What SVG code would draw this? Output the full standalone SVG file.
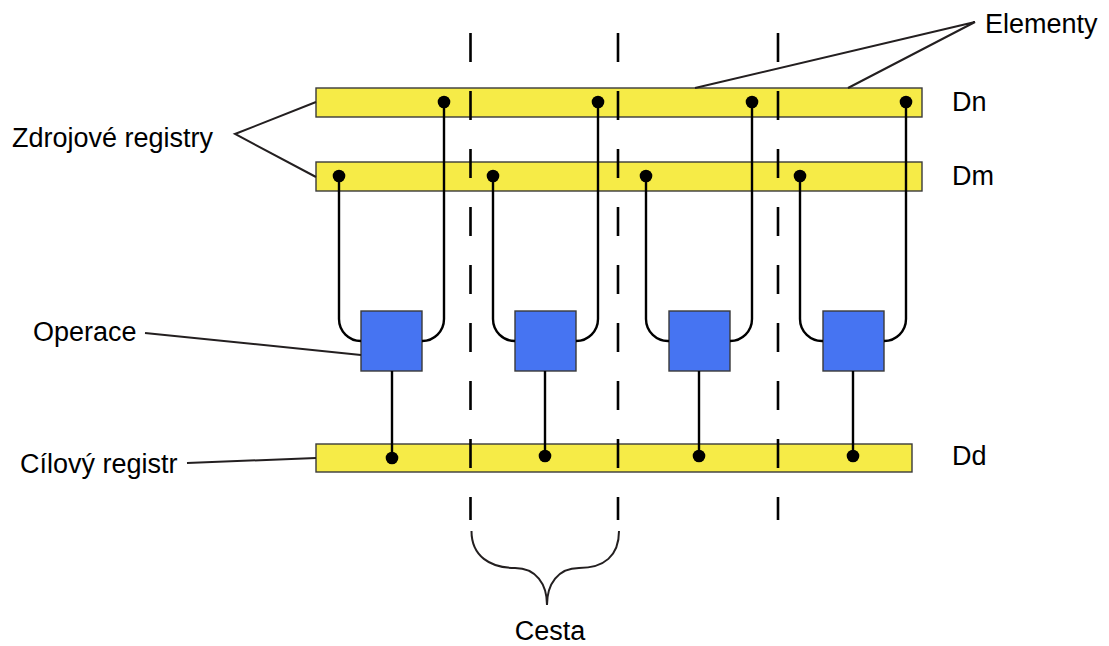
<svg xmlns="http://www.w3.org/2000/svg" width="1109" height="646" viewBox="0 0 1109 646">
<style>
.bar{fill:#F6EB47;stroke:#3a3a3a;stroke-width:1.4}
.op{fill:#4674F2;stroke:#3a3a3a;stroke-width:1.4}
.wire{fill:none;stroke:#000;stroke-width:2.4}
.lead{fill:none;stroke:#231f20;stroke-width:2}
.dash{fill:none;stroke:#000;stroke-width:2.6;stroke-dasharray:29 29}
.dot{fill:#000}
.t{font-family:"Liberation Sans",Arial,sans-serif;font-size:27px;fill:#000}
</style>
<rect width="1109" height="646" fill="#fff"/>
<g id="reg-dn"><rect class="bar" x="316" y="88" width="606" height="29"/><text class="t" x="952" y="111">Dn</text></g>
<g id="reg-dm"><rect class="bar" x="316" y="162" width="606" height="29"/><text class="t" x="952" y="185">Dm</text></g>
<g id="reg-dd"><rect class="bar" x="316" y="444" width="596" height="28"/><text class="t" x="952" y="465">Dd</text></g>
<g id="op1"><rect class="op" x="361" y="311" width="61" height="60"/></g>
<g id="op2"><rect class="op" x="515" y="311" width="61" height="60"/></g>
<g id="op3"><rect class="op" x="669" y="311" width="61" height="60"/></g>
<g id="op4"><rect class="op" x="823" y="311" width="61" height="60"/></g>
<g id="connectors">
<path class="wire" d="M339,176 V319 A22,22 0 0 0 361,341"/>
<path class="wire" d="M444,102 V319 A22,22 0 0 1 422,341"/>
<path class="wire" d="M392,371 V458"/>
<path class="wire" d="M493,176 V319 A22,22 0 0 0 515,341"/>
<path class="wire" d="M598,102 V319 A22,22 0 0 1 576,341"/>
<path class="wire" d="M545,371 V457"/>
<path class="wire" d="M646,176 V319 A22,22 0 0 0 669,341"/>
<path class="wire" d="M752,102 V319 A22,22 0 0 1 730,341"/>
<path class="wire" d="M699,371 V457"/>
<path class="wire" d="M800,176 V319 A22,22 0 0 0 823,341"/>
<path class="wire" d="M906,102 V319 A22,22 0 0 1 884,341"/>
<path class="wire" d="M853,371 V457"/>
<g class="dot">
<circle cx="444" cy="102" r="6.3"/><circle cx="598" cy="102" r="6.3"/><circle cx="752" cy="102" r="6.3"/><circle cx="906" cy="102" r="6.3"/>
<circle cx="339" cy="176" r="6.3"/><circle cx="493" cy="176" r="6.3"/><circle cx="646" cy="176" r="6.3"/><circle cx="800" cy="176" r="6.3"/>
<circle cx="392" cy="458" r="6.3"/><circle cx="545" cy="456" r="6.3"/><circle cx="699" cy="456" r="6.3"/><circle cx="853" cy="456" r="6.3"/>
</g>
<path class="dash" d="M470.5,33 V520"/>
<path class="dash" d="M618,33 V520"/>
<path class="dash" d="M778,33 V520"/>
<path class="lead" d="M316,102 L235,134 L316,177"/>
<path class="lead" d="M695,88 L975,22 L848,88"/>
<path class="lead" d="M145,333 L361,355"/>
<path class="lead" d="M187,463 L316,458"/>
<path class="lead" d="M471.5,531 C471.5,556 490,568 515,568 C536,568 547,584 547,605 C547,584 558,568 579,568 C604,568 619,556 619,531"/>
</g>
<g id="labels">
<text class="t" x="985" y="33">Elementy</text>
<text class="t" x="12" y="147">Zdrojové registry</text>
<text class="t" x="33" y="341">Operace</text>
<text class="t" x="20" y="473">Cílový registr</text>
<text class="t" x="550" y="640" text-anchor="middle">Cesta</text>
</g>
</svg>
